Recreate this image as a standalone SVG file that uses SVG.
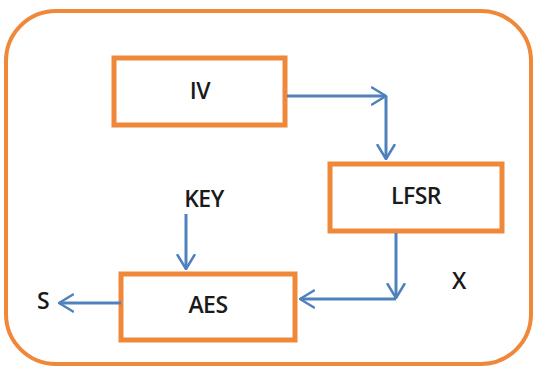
<svg xmlns="http://www.w3.org/2000/svg" width="537" height="370" viewBox="0 0 537 370">
<style>
.box{fill:#fff;stroke:#F0883A;stroke-width:5}
.outer{fill:#fff;stroke:#F0883A;stroke-width:4}
.lbl{font-family:"Open Sans","Liberation Sans",Arial,sans-serif;font-size:23px;font-weight:600;fill:#1a1a1a;text-anchor:middle;dominant-baseline:central;letter-spacing:-0.5px}
.c{fill:none;stroke:#4F81BD;stroke-width:3;stroke-linejoin:round}
</style>
<defs>
<marker id="ah" viewBox="0 0 16 20" refX="15" refY="10" markerWidth="16" markerHeight="20" markerUnits="userSpaceOnUse" orient="auto">
<path d="M1,1.5 L15,10 L1,18.5" fill="none" stroke="#4F81BD" stroke-width="2.5" stroke-linecap="round" stroke-linejoin="round"/>
</marker>
</defs>
<rect x="0" y="0" width="537" height="370" fill="#fff"/>
<g id="frame"><rect class="outer" x="6" y="11" width="525" height="353" rx="50" ry="50"/></g>
<g id="iv"><rect class="box" x="114" y="58" width="171" height="67"/><text class="lbl" x="200" y="90">IV</text></g>
<g id="lfsr"><rect class="box" x="330" y="164" width="172" height="67"/><text class="lbl" x="416" y="195">LFSR</text></g>
<g id="aes"><rect class="box" x="121" y="274" width="174" height="66"/><text class="lbl" x="208" y="304">AES</text></g>
<g id="key"><text class="lbl" x="204" y="198">KEY</text></g>
<g id="s"><text class="lbl" x="43" y="300">S</text></g>
<g id="x"><text class="lbl" x="459" y="280">X</text></g>
<g id="connectors">
<path class="c" d="M287,96 H386" marker-end="url(#ah)"/>
<path class="c" d="M386,96 V159" marker-end="url(#ah)"/>
<path class="c" d="M186,214 V269" marker-end="url(#ah)"/>
<path class="c" d="M396,233 V298" marker-end="url(#ah)"/>
<path class="c" d="M396,299 H300" marker-end="url(#ah)"/>
<path class="c" d="M121,303 H59" marker-end="url(#ah)"/>
</g>
</svg>
